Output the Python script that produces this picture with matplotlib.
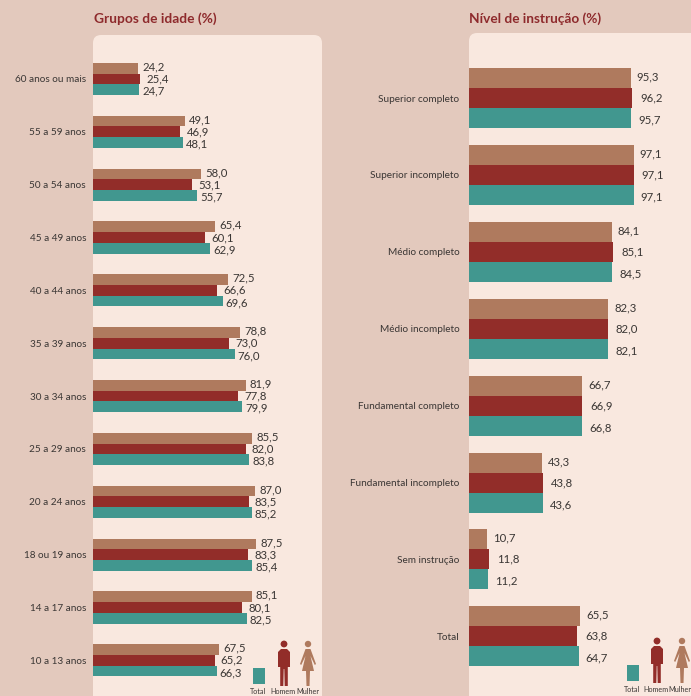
import matplotlib
matplotlib.use("Agg")
import matplotlib.pyplot as plt
from matplotlib.patches import FancyBboxPatch, Circle, Polygon, Rectangle

plt.rcParams['font.family'] = ['Lato', 'DejaVu Sans']

age_groups = ["60 anos ou mais", "55 a 59 anos", "50 a 54 anos", "45 a 49 anos", "40 a 44 anos",
              "35 a 39 anos", "30 a 34 anos", "25 a 29 anos", "20 a 24 anos", "18 ou 19 anos",
              "14 a 17 anos", "10 a 13 anos"]
age_mulher = [24.2, 49.1, 58.0, 65.4, 72.5, 78.8, 81.9, 85.5, 87.0, 87.5, 85.1, 67.5]
age_homem = [25.4, 46.9, 53.1, 60.1, 66.6, 73.0, 77.8, 82.0, 83.5, 83.3, 80.1, 65.2]
age_total = [24.7, 48.1, 55.7, 62.9, 69.6, 76.0, 79.9, 83.8, 85.2, 85.4, 82.5, 66.3]

edu_groups = ["Superior completo", "Superior incompleto", "Médio completo", "Médio incompleto",
              "Fundamental completo", "Fundamental incompleto", "Sem instrução", "Total"]
edu_mulher = [95.3, 97.1, 84.1, 82.3, 66.7, 43.3, 10.7, 65.5]
edu_homem = [96.2, 97.1, 85.1, 82.0, 66.9, 43.8, 11.8, 63.8]
edu_total = [95.7, 97.1, 84.5, 82.1, 66.8, 43.6, 11.2, 64.7]

BG = "#E3C9BD"
PANEL = "#F9E8DF"
C_M = "#AF7A5E"
C_H = "#922D29"
C_T = "#41978F"
TITLE = "#8E2A2C"
TXT = "#3A3634"
W, H = 691, 696

fig = plt.figure(figsize=(W / 100, H / 100), dpi=100, facecolor=BG)
bg = fig.add_axes([0, 0, 1, 1], zorder=0)
bg.set_xlim(0, W)
bg.set_ylim(H, 0)
bg.axis("off")

for x0, y0, w in [(93, 35, 229), (469, 33, 260)]:
    bg.add_patch(FancyBboxPatch((x0 + 8, y0 + 8), w - 16, H + 40 - y0,
                                boxstyle="round,pad=8,rounding_size=8",
                                fc=PANEL, ec="none", zorder=1))


def panel(x0, x1, y0, y1, first, step, barh, scale, cats, series, num_fs, tick_fs, pads, dys, tick_pad):
    ax = fig.add_axes([x0 / W, 1 - y1 / H, (x1 - x0) / W, (y1 - y0) / H], zorder=2)
    ax.patch.set_alpha(0)
    ax.set_xlim(0, (x1 - x0) / scale)
    ax.set_ylim((y1 - first) / step, (y0 - first) / step)
    h = barh / step
    for (vals, col), off, pad, dy in zip(series, (-h, 0, h), pads, dys):
        pos = [i + off for i in range(len(cats))]
        ax.barh(pos, vals, height=h, color=col, edgecolor="none")
        for p, v in zip(pos, vals):
            ax.annotate(f"{v:.1f}".replace(".", ","), (v, p), xytext=(pad, dy),
                        textcoords="offset pixels", va="center", ha="left",
                        fontsize=num_fs, color=TXT)
    ax.set_yticks(range(len(cats)))
    ax.set_yticklabels(cats, fontsize=tick_fs, color=TXT)
    ax.tick_params(axis="y", length=0, pad=tick_pad)
    ax.set_xticks([])
    for s in ax.spines.values():
        s.set_visible(False)
    return ax


panel(93, 322, 35, 696, 79, 52.85, 10.7, 1.865, age_groups,
      [(age_mulher, C_M), (age_homem, C_H), (age_total, C_T)], 8.2, 7.2, (4, 6, 3), (1.5, 0, -1.5), 5)
panel(469, 691, 33, 696, 98, 76.9, 20, 1.695, edu_groups,
      [(edu_mulher, C_M), (edu_homem, C_H), (edu_total, C_T)], 8.2, 7.2, (6, 8, 7), (1, 0, -2), 7)

bg.text(94, 19, "Grupos de idade (%)", fontsize=9.9, fontweight="bold", color=TITLE, va="center", zorder=3)
bg.text(469, 19, "Nível de instrução (%)", fontsize=9.8, fontweight="bold", color=TITLE, va="center", zorder=3)


def man(cx, top):
    bg.add_patch(Circle((cx, top + 4), 3.4, fc=C_H, ec="none", zorder=3))
    bg.add_patch(Polygon([(cx - 6, top + 12), (cx - 3, top + 9), (cx + 3, top + 9), (cx + 6, top + 12),
                          (cx + 6, top + 27), (cx + 3.8, top + 27), (cx + 3.8, top + 46), (cx + 0.7, top + 46),
                          (cx + 0.3, top + 29), (cx - 0.3, top + 29), (cx - 0.7, top + 46), (cx - 3.8, top + 46),
                          (cx - 3.8, top + 27), (cx - 6, top + 27)], fc=C_H, ec="none", zorder=3))


def woman(cx, top):
    bg.add_patch(Circle((cx, top + 4), 3.2, fc=C_M, ec="none", zorder=3))
    bg.add_patch(Polygon([(cx - 2.5, top + 9), (cx + 2.5, top + 9), (cx + 8, top + 24), (cx + 6.8, top + 25),
                          (cx + 2.5, top + 16), (cx + 6, top + 31), (cx + 2, top + 31), (cx + 1.5, top + 46),
                          (cx - 1.5, top + 46), (cx - 2, top + 31), (cx - 6, top + 31), (cx - 2.5, top + 16),
                          (cx - 6.8, top + 25), (cx - 8, top + 24)], fc=C_M, ec="none", zorder=3))


def legend(xs, sq_x, sq_y, top, lab_y, label_xs):
    bg.add_patch(Rectangle((sq_x, sq_y), 12, 16, fc=C_T, ec="none", zorder=3))
    man(xs[1], top)
    woman(xs[2], top)
    for x, t in zip(label_xs, ("Total", "Homem", "Mulher")):
        bg.text(x, lab_y, t, fontsize=5.2, color=TXT, ha="center", va="center", zorder=3)


legend((258, 284, 308), 253, 668, 640, 691, (258, 283, 308))
legend((632, 657, 682), 627, 665, 637, 689, (632, 656, 680))

fig.savefig("out.png", dpi=100, facecolor=BG)
